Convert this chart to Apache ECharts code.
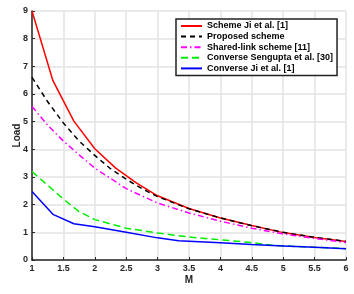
<!DOCTYPE html>
<html><head><meta charset="utf-8">
<script src="https://cdn.jsdelivr.net/npm/echarts@6/dist/echarts.min.js"></script>
<style>html,body{margin:0;padding:0;background:#fff}#c{width:354px;height:294px}</style>
</head><body><div id="c"></div>
<script>
const seriesNames = ['Scheme Ji et al. [1]', 'Proposed scheme', 'Shared-link scheme [11]', 'Converse Sengupta et al. [30]', 'Converse Ji et al. [1]'];
const xTicks = [1, 1.5, 2, 2.5, 3, 3.5, 4, 4.5, 5, 5.5, 6];
const yTicks = [0, 1, 2, 3, 4, 5, 6, 7, 8, 9];

const mRed = [1, 4/3, 5/3, 2, 7/3, 8/3, 3, 3.5, 4, 4.5, 5, 5.5, 6];
const loadRed = [9.0, 6.48, 5.02, 4.02, 3.32, 2.78, 2.32, 1.86, 1.52, 1.25, 0.99, 0.81, 0.67];

const mBlack = [1, 1.25, 1.5, 1.75, 2, 2.25, 2.5, 2.75, 3, 3.5, 4, 4.5, 5, 5.5, 6];
const loadBlack = [6.6, 5.72, 4.95, 4.3, 3.78, 3.3, 2.92, 2.58, 2.29, 1.85, 1.52, 1.24, 1.0, 0.82, 0.67];

const mMagenta = [1, 1.25, 1.5, 1.75, 2, 2.5, 3, 3.5, 4, 4.5, 5, 5.5, 6];
const loadMagenta = [5.55, 4.87, 4.3, 3.8, 3.32, 2.58, 2.06, 1.7, 1.4, 1.15, 0.94, 0.78, 0.63];

const mGreen = [1, 1.5, 1.75, 2, 2.5, 3, 3.5, 4, 4.5, 4.8, 5, 6];
const loadGreen = [3.2, 2.2, 1.75, 1.46, 1.15, 0.98, 0.83, 0.73, 0.63, 0.54, 0.51, 0.41];

const mBlue = [1, 4/3, 5/3, 2, 2.5, 3, 10/3, 4, 4.5, 5, 5.5, 6];
const loadBlue = [2.48, 1.65, 1.31, 1.2, 1.0, 0.8, 0.7, 0.62, 0.56, 0.51, 0.46, 0.41];

const pairs = (xs, ys) => xs.map((x, i) => [x, ys[i]]);
const font = 'Liberation Sans, Arial, sans-serif';

const mk = (name, xs, ys, color, type) => ({
  name, type: 'line', data: pairs(xs, ys), symbol: 'none', smooth: false,
  lineStyle: { color, width: 1.5, type }, itemStyle: { color },
  emphasis: { disabled: true }, animation: false
});

const chart = echarts.init(document.getElementById('c'), null, { renderer: 'canvas' });
chart.setOption({
  animation: false,
  backgroundColor: '#fff',
  grid: { left: 32, right: 8, top: 11, bottom: 34, containLabel: false },
  xAxis: {
    type: 'value', min: 1, max: 6, interval: 0.5,
    name: 'M', nameLocation: 'middle', nameGap: 15, nameMoveOverlap: false,
    nameTextStyle: { fontFamily: font, fontWeight: 'bold', fontSize: 10, color: '#262626' },
    axisLine: { show: true, onZero: false, lineStyle: { color: '#262626', width: 1.5 } },
    axisTick: { show: true, inside: true, length: 3, lineStyle: { color: '#262626' } },
    axisLabel: { fontFamily: font, fontWeight: 'bold', fontSize: 9, color: '#262626', margin: 4,
      formatter: v => xTicks.includes(v) ? String(v) : '' },
    splitLine: { show: true, lineStyle: { color: '#e3e3e3', width: 1.5 } }
  },
  yAxis: {
    type: 'value', min: 0, max: 9, interval: 1,
    name: 'Load', nameLocation: 'middle', nameGap: 15, nameRotate: 90, nameMoveOverlap: false,
    nameTextStyle: { fontFamily: font, fontWeight: 'bold', fontSize: 10, color: '#262626', verticalAlign: 'middle' },
    axisLine: { show: true, onZero: false, lineStyle: { color: '#262626', width: 1.5 } },
    axisTick: { show: true, inside: true, length: 3, lineStyle: { color: '#262626' } },
    axisLabel: { fontFamily: font, fontWeight: 'bold', fontSize: 9, color: '#262626', margin: 4,
      formatter: v => yTicks.includes(v) ? String(v) : '' },
    splitLine: { show: true, lineStyle: { color: '#e3e3e3', width: 1.5 } }
  },
  legend: {
    show: true, orient: 'vertical', left: 176, top: 19,
    backgroundColor: '#fff', borderColor: '#222', borderWidth: 1.5,
    padding: [2, 4, 2, 4], itemWidth: 21, itemHeight: 10, itemGap: 0.6,
    itemStyle: { opacity: 0 },
    textStyle: { fontFamily: font, fontWeight: 'bold', fontSize: 9, color: '#000', lineHeight: 10 },
    selectedMode: false,
    data: seriesNames
  },
  series: [
    mk(seriesNames[0], mRed, loadRed, '#ff0000', 'solid'),
    mk(seriesNames[1], mBlack, loadBlack, '#000000', [5, 4]),
    mk(seriesNames[2], mMagenta, loadMagenta, '#ff00ff', [6, 3, 1.5, 3]),
    mk(seriesNames[3], mGreen, loadGreen, '#00ee00', [7, 4]),
    mk(seriesNames[4], mBlue, loadBlue, '#0000ff', 'solid')
  ]
});
</script></body></html>
